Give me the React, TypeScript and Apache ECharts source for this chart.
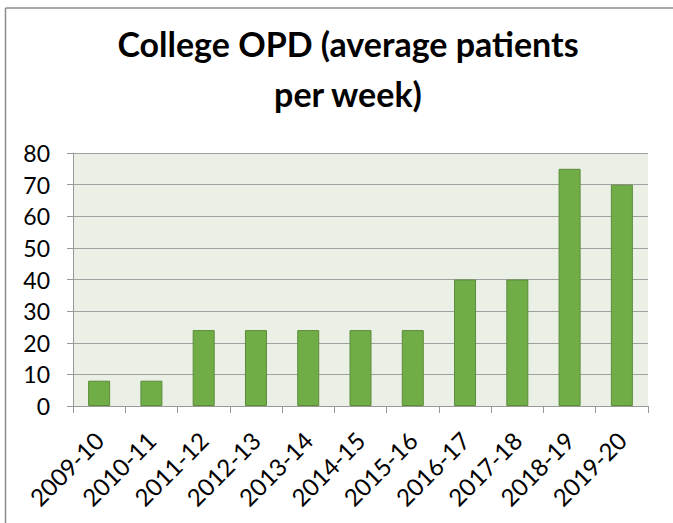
import React, { useEffect, useRef } from "react";
import * as echarts from "echarts";

const titleText = "College OPD (average patients\nper week)";
const categories = ["2009-10", "2010-11", "2011-12", "2012-13", "2013-14", "2014-15", "2015-16", "2016-17", "2017-18", "2018-19", "2019-20"];
const values = [8, 8, 24, 24, 24, 24, 24, 40, 40, 75, 70];
const yMin = 0;
const yMax = 80;
const yInterval = 10;

export default function App() {
  const ref = useRef<HTMLDivElement>(null);
  useEffect(() => {
    if (!ref.current) return;
    const chart = echarts.init(ref.current, undefined, { renderer: "svg" });
    const font = "Lato, 'Open Sans', sans-serif";
    chart.setOption({
      animation: false,
      backgroundColor: "#ffffff",
      title: {
        text: titleText,
        left: 343,
        top: 13,
        textAlign: "center",
        textStyle: {
          fontFamily: font,
          fontWeight: "bold",
          fontSize: 34,
          lineHeight: 50,
          color: "#000000",
        },
      },
      graphic: [
        { type: "line", shape: { x1: 5.5, y1: 8, x2: 673, y2: 8 }, style: { stroke: "#8c8c8c", lineWidth: 1.5 } },
        { type: "line", shape: { x1: 5.5, y1: 8, x2: 5.5, y2: 523 }, style: { stroke: "#8c8c8c", lineWidth: 1.5 } },
      ],
      grid: {
        left: 73,
        right: 25,
        top: 153,
        bottom: 117,
        show: true,
        backgroundColor: "#ebf0e6",
        borderWidth: 0,
      },
      xAxis: {
        type: "category",
        data: categories,
        axisLine: { show: true, lineStyle: { color: "#999999", width: 1 } },
        axisTick: { show: true, length: 7, lineStyle: { color: "#999999" } },
        axisLabel: {
          rotate: 45,
          margin: 30,
          padding: [12, 0, 0, 0],
          fontFamily: font,
          fontSize: 24,
          color: "#000000",
          interval: 0,
        },
      },
      yAxis: {
        type: "value",
        min: yMin,
        max: yMax,
        interval: yInterval,
        axisLine: { show: true, lineStyle: { color: "#999999", width: 1 } },
        axisTick: { show: true, length: 6, lineStyle: { color: "#999999" } },
        axisLabel: {
          margin: 23,
          fontFamily: font,
          fontSize: 23,
          color: "#000000",
        },
        splitLine: { show: true, lineStyle: { color: "#a0a0a0", width: 1 } },
      },
      series: [
        {
          type: "bar",
          data: values,
          barWidth: 22,
          itemStyle: { color: "#70ad47", borderColor: "#5b8c3a", borderWidth: 1 },
        },
      ],
    });
    return () => chart.dispose();
  }, []);
  return <div ref={ref} style={{ position: "absolute", left: 0, top: 0, width: 673, height: 523 }} />;
}
